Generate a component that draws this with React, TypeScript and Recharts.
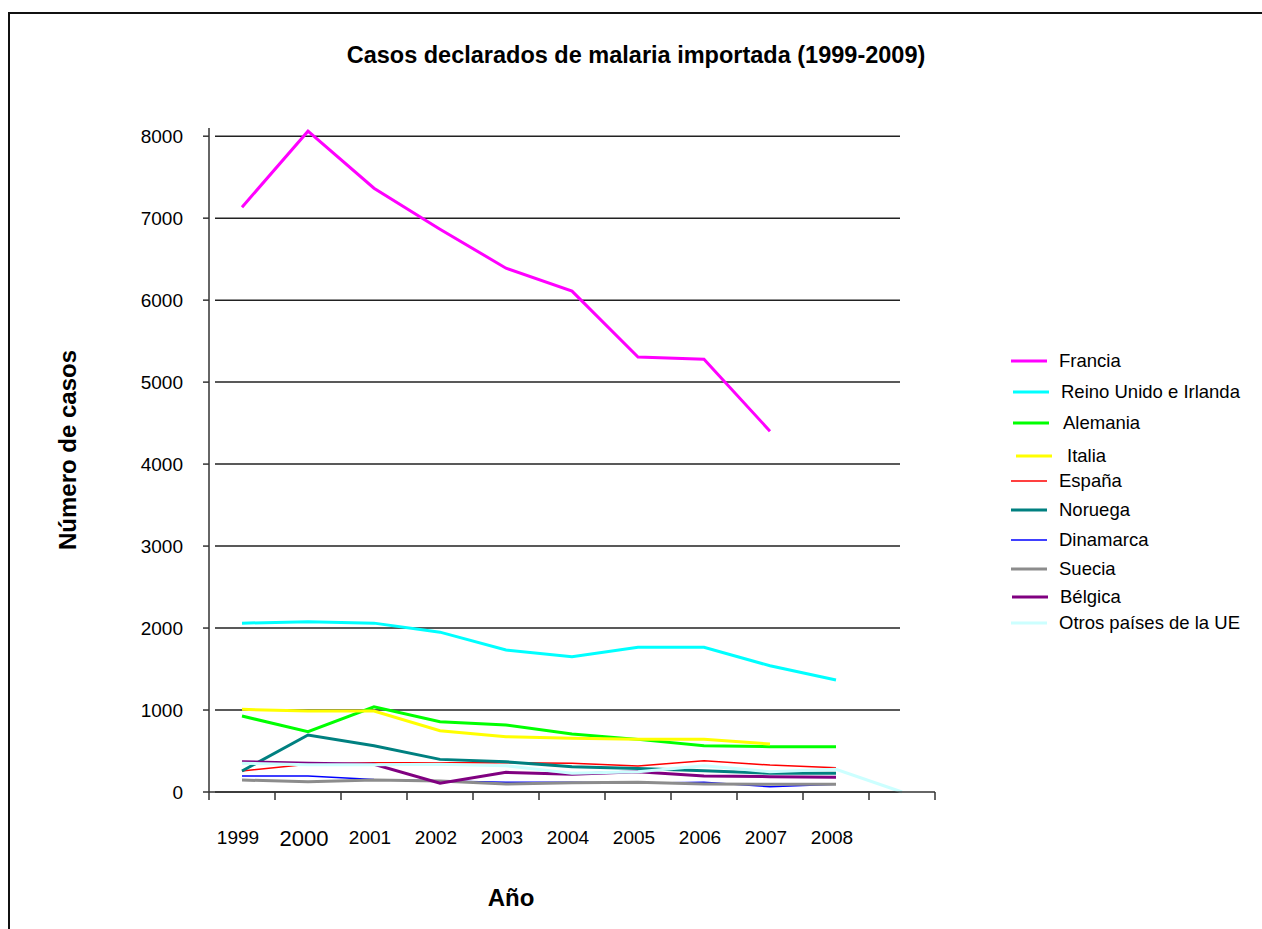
import { LineChart, Line, XAxis, YAxis, CartesianGrid } from 'recharts';

// años (el último, 2009, sin etiqueta en el eje)
const years = ['1999', '2000', '2001', '2002', '2003', '2004', '2005', '2006', '2007', '2008', '2009'];
const yTicks = [0, 1000, 2000, 3000, 4000, 5000, 6000, 7000, 8000];

const francia = [7134, 8061, 7366, 6866, 6390, 6110, 5305, 5280, 4402, null, null];
const reinoUnido = [2060, 2077, 2060, 1950, 1732, 1650, 1765, 1765, 1540, 1366, null];
const alemania = [927, 735, 1040, 857, 817, 707, 642, 565, 553, 553, null];
const italia = [1008, 988, 988, 748, 675, 655, 642, 642, 585, null, null];
const espana = [256, 338, 357, 357, 357, 350, 317, 382, 329, 297, null];
const noruega = [256, 695, 565, 398, 369, 309, 288, 260, 228, 228, null];
const dinamarca = [195, 195, 154, 134, 118, 118, 106, 118, 65, 94, null];
const suecia = [146, 126, 146, 134, 98, 114, 118, 98, 94, 94, null];
const belgica = [370, 350, 338, 106, 240, 216, 248, 195, 187, 180, null];
const otros = [350, 333, 333, 338, 319, 228, 248, 321, 248, 277, 0];

const SERIES = [
  { key: 'francia', name: 'Francia', values: francia, color: '#ff00ff', width: 3 },
  { key: 'reino', name: 'Reino Unido e Irlanda', values: reinoUnido, color: '#00ffff', width: 3 },
  { key: 'alemania', name: 'Alemania', values: alemania, color: '#00ff00', width: 3 },
  { key: 'italia', name: 'Italia', values: italia, color: '#ffff00', width: 3 },
  { key: 'espana', name: 'España', values: espana, color: '#ff0000', width: 1.5 },
  { key: 'noruega', name: 'Noruega', values: noruega, color: '#008080', width: 3 },
  { key: 'dinamarca', name: 'Dinamarca', values: dinamarca, color: '#0000ff', width: 1.5 },
  { key: 'suecia', name: 'Suecia', values: suecia, color: '#8c8c8c', width: 3 },
  { key: 'belgica', name: 'Bélgica', values: belgica, color: '#800080', width: 3 },
  { key: 'otros', name: 'Otros países de la UE', values: otros, color: '#ccffff', width: 3 },
];

const data = years.map((year, i) => {
  const row: any = { year };
  SERIES.forEach(s => {
    row[s.key] = s.values[i];
  });
  return row;
});

const FONT = 'Arial, "Liberation Sans", sans-serif';

// posiciones verticales de la leyenda (como en el original, espaciado irregular)
const LEGEND_Y = [361, 392, 423, 456, 481, 510, 540, 569, 597, 623];
const LEGEND_INDENT = [0, 2, 2, 5, 0, 0, 0, 0, 1, 0];
const TEXT_INDENT = [0, 2, 4, 8, 0, 0, 0, 0, 1, 0];

function YearTick(props: any) {
  const { x, y, payload, index, width, visibleTicksCount } = props;
  const half = width / visibleTicksCount / 2;
  const axisY = y - 8;
  const label = payload.value === '2009' ? '' : payload.value;
  const big = payload.value === '2000';
  return (
    <g>
      <line x1={x - half} x2={x - half} y1={axisY} y2={axisY + 8} stroke="#333" strokeWidth={1.5} />
      {index === visibleTicksCount - 1 && (
        <line x1={x + half} x2={x + half} y1={axisY} y2={axisY + 8} stroke="#333" strokeWidth={1.5} />
      )}
      <text
        x={x - 4}
        y={axisY + (big ? 54 : 52)}
        textAnchor="middle"
        fontFamily={FONT}
        fontSize={big ? 22 : 19}
        fill="#000"
      >
        {label}
      </text>
    </g>
  );
}

function GridLine(props: any) {
  const { x1, x2, y1, y2 } = props;
  // sin línea en el borde superior del área
  if (y1 < 133) return null;
  return <line x1={x1 + 6} x2={x2 - 35} y1={y1} y2={y2} stroke="#222" strokeWidth={1.5} />;
}

function LegendBox() {
  return (
    <svg width={262} height={300} style={{ position: 'absolute', left: 1000, top: 340 }}>
      {SERIES.map((s, i) => {
        const y = LEGEND_Y[i] - 340;
        return (
          <g key={s.key}>
            <line x1={11 + LEGEND_INDENT[i]} x2={47 + LEGEND_INDENT[i]} y1={y} y2={y} stroke={s.color} strokeWidth={s.width} />
            <text x={59 + TEXT_INDENT[i]} y={y + 6} fontFamily={FONT} fontSize={18.5} fill="#000">
              {s.name}
            </text>
          </g>
        );
      })}
    </svg>
  );
}

export default function App() {
  return (
    <div style={{ position: 'absolute', left: 0, top: 0, width: 1262, height: 929, background: '#fff', overflow: 'hidden' }}>
      <div
        style={{
          position: 'absolute',
          left: 8,
          top: 12,
          width: 1300,
          height: 1000,
          borderLeft: '2px solid #111',
          borderTop: '2px solid #111',
        }}
      />
      <div
        style={{
          position: 'absolute',
          left: 636,
          top: 55,
          transform: 'translate(-50%, -50%)',
          fontFamily: FONT,
          fontWeight: 'bold',
          fontSize: 23.5,
          whiteSpace: 'nowrap',
        }}
      >
        Casos declarados de malaria importada (1999-2009)
      </div>
      <div
        style={{
          position: 'absolute',
          left: 68,
          top: 450,
          transform: 'translate(-50%, -50%) rotate(-90deg)',
          fontFamily: FONT,
          fontWeight: 'bold',
          fontSize: 24,
          whiteSpace: 'nowrap',
        }}
      >
        Número de casos
      </div>
      <div
        style={{
          position: 'absolute',
          left: 511,
          top: 898,
          transform: 'translate(-50%, -50%)',
          fontFamily: FONT,
          fontWeight: 'bold',
          fontSize: 24,
        }}
      >
        Año
      </div>
      <div style={{ position: 'absolute', left: 0, top: 0 }}>
        <LineChart
          width={1262}
          height={929}
          data={data}
          margin={{ top: 128, right: 327, bottom: 77, left: 149 }}
        >
          <CartesianGrid vertical={false} horizontal={<GridLine />} />
          <XAxis
            dataKey="year"
            scale="band"
            height={60}
            tickLine={false}
            tickSize={8}
            tickMargin={0}
            interval={0}
            axisLine={{ stroke: '#333', strokeWidth: 1.5 }}
            tick={<YearTick />}
          />
          <YAxis
            width={60}
            domain={[0, 8100]}
            ticks={yTicks}
            interval={0}
            tickSize={6}
            tickMargin={20}
            axisLine={{ stroke: '#333', strokeWidth: 1.5 }}
            tickLine={{ stroke: '#333', strokeWidth: 1.5 }}
            tick={{ fontFamily: FONT, fontSize: 19, fill: '#000' }}
          />
          {SERIES.map(s => (
            <Line
              key={s.key}
              type="linear"
              dataKey={s.key}
              name={s.name}
              stroke={s.color}
              strokeWidth={s.width}
              dot={false}
              activeDot={false}
              connectNulls={false}
              isAnimationActive={false}
            />
          ))}
        </LineChart>
      </div>
      <LegendBox />
    </div>
  );
}
